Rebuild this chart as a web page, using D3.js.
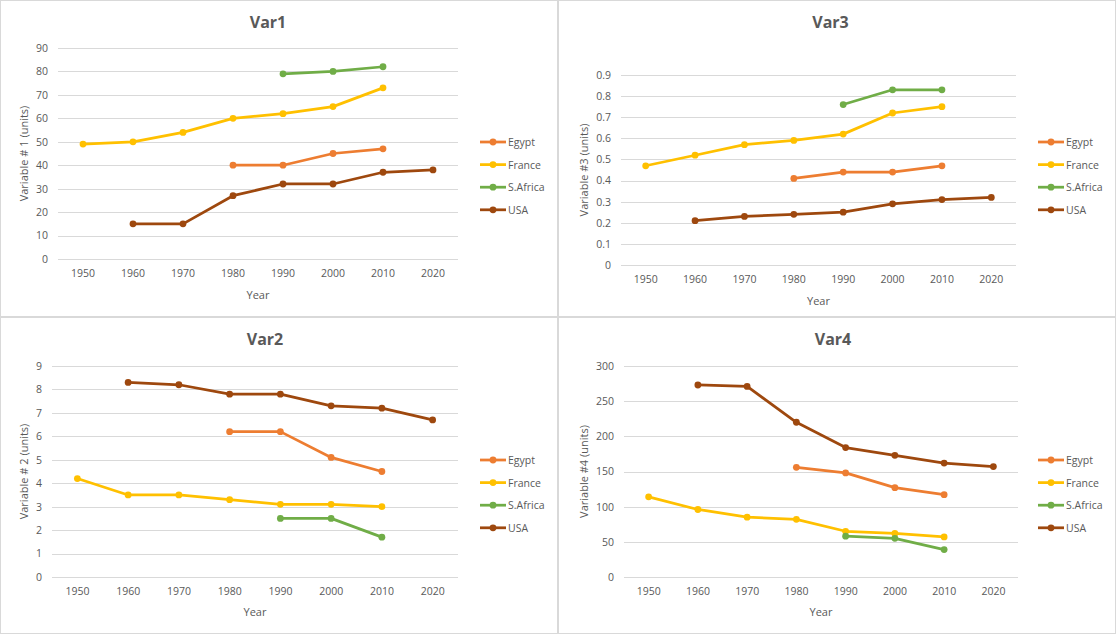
<!DOCTYPE html>
<html><head><meta charset="utf-8">
<script src="https://cdn.jsdelivr.net/npm/d3@7"></script>
<style>
html,body{margin:0;padding:0;background:#fff;}
svg{display:block;font-family:"Open Sans",sans-serif;}
</style></head>
<body>
<svg id="chart" width="1116" height="634"></svg>
<script>
// ---- Data ----
const years = ["1950","1960","1970","1980","1990","2000","2010","2020"];
const countries = ["Egypt","France","S.Africa","USA"];
const colors = ["#ED7D31","#FFC000","#70AD47","#9E480E"];

const var1Egypt   = [null,null,null,40,40,45,47,null];
const var1France  = [49,50,54,60,62,65,73,null];
const var1SAfrica = [null,null,null,null,79,80,82,null];
const var1USA     = [null,15,15,27,32,32,37,38];

const var3Egypt   = [null,null,null,0.41,0.44,0.44,0.47,null];
const var3France  = [0.47,0.52,0.57,0.59,0.62,0.72,0.75,null];
const var3SAfrica = [null,null,null,null,0.76,0.83,0.83,null];
const var3USA     = [null,0.21,0.23,0.24,0.25,0.29,0.31,0.32];

const var2Egypt   = [null,null,null,6.2,6.2,5.1,4.5,null];
const var2France  = [4.2,3.5,3.5,3.3,3.1,3.1,3.0,null];
const var2SAfrica = [null,null,null,null,2.5,2.5,1.7,null];
const var2USA     = [null,8.3,8.2,7.8,7.8,7.3,7.2,6.7];

const var4Egypt   = [null,null,null,156,148,127,117,null];
const var4France  = [114,96,85,82,65,62,57,null];
const var4SAfrica = [null,null,null,null,58,55,39,null];
const var4USA     = [null,273,271,220,184,173,162,157];

const var1Ticks = [0,10,20,30,40,50,60,70,80,90];
const var3Ticks = [0,0.1,0.2,0.3,0.4,0.5,0.6,0.7,0.8,0.9];
const var2Ticks = [0,1,2,3,4,5,6,7,8,9];
const var4Ticks = [0,50,100,150,200,250,300];

const panels = [
  {title:"Var1", ylabel:"Variable # 1 (units)", series:[var1Egypt,var1France,var1SAfrica,var1USA], ticks:var1Ticks,
   ox:0, oy:0, box:{l:58,r:458,t:48,b:259}, xTitleY:295, legendY:142},
  {title:"Var3", ylabel:"Variable #3 (units)", series:[var3Egypt,var3France,var3SAfrica,var3USA], ticks:var3Ticks,
   ox:558, oy:0, box:{l:63,r:458,t:75,b:265}, xTitleY:301, legendY:142},
  {title:"Var2", ylabel:"Variable # 2 (units)", series:[var2Egypt,var2France,var2SAfrica,var2USA], ticks:var2Ticks,
   ox:0, oy:317, box:{l:52,r:458,t:49,b:260}, xTitleY:295, legendY:143},
  {title:"Var4", ylabel:"Variable #4 (units)", series:[var4Egypt,var4France,var4SAfrica,var4USA], ticks:var4Ticks,
   ox:558, oy:317, box:{l:66,r:460,t:49,b:260}, xTitleY:295, legendY:143}
];

const svg = d3.select("#chart");
const textCol = "#595959";

panels.forEach(p => {
  const g = svg.append("g").attr("transform", `translate(${p.ox},${p.oy})`);
  g.append("rect").attr("x",0.5).attr("y",0.5).attr("width",557).attr("height",316)
    .attr("fill","#fff").attr("stroke","#d9d9d9");

  const b = p.box;
  const x = d3.scaleBand().domain(years).range([b.l,b.r]);
  const yMax = p.ticks[p.ticks.length-1];
  const y = d3.scaleLinear().domain([0,yMax]).range([b.b,b.t]);

  // gridlines
  g.append("g").selectAll("line").data(p.ticks).join("line")
    .attr("x1",b.l).attr("x2",b.r)
    .attr("y1",d=>Math.round(y(d))+0.5).attr("y2",d=>Math.round(y(d))+0.5)
    .attr("stroke","#d9d9d9").attr("stroke-width",1);

  // y axis labels
  const yAxis = d3.axisLeft(y).tickValues(p.ticks).tickSize(0).tickPadding(0)
     .tickFormat(d=>String(+d.toFixed(2)));
  const ya = g.append("g").attr("transform",`translate(${b.l-10},0)`).call(yAxis);
  ya.select(".domain").remove();
  ya.selectAll("text").attr("fill",textCol).style("font-size","10.5px").style("font-family","Open Sans");

  // x axis labels
  const xAxis = d3.axisBottom(x).tickSize(0).tickPadding(0);
  const xa = g.append("g").attr("transform",`translate(0,${b.b+11})`).call(xAxis);
  xa.select(".domain").remove();
  xa.selectAll("text").attr("fill",textCol).style("font-size","10.5px").style("font-family","Open Sans");

  // title
  g.append("text").attr("x",(b.l+b.r)/2+ (p.ox? 12:10)).attr("y",28).attr("text-anchor","middle")
    .attr("fill",textCol).style("font-size","16px").style("font-weight","bold").text(p.title);

  // axis titles
  g.append("text").attr("x",(b.l+b.r)/2).attr("y",p.xTitleY+4).attr("text-anchor","middle")
    .attr("fill",textCol).style("font-size","11px").text("Year");
  g.append("text").attr("transform",`translate(${p.ox?30:28},${(b.t+b.b)/2}) rotate(-90)`)
    .attr("text-anchor","middle").attr("fill",textCol).style("font-size","11px").text(p.ylabel);

  // lines
  const line = d3.line().defined(d=>d.v!=null).x(d=>x(d.year)+x.bandwidth()/2).y(d=>y(d.v));
  p.series.forEach((s,i) => {
    const pts = s.map((v,j)=>({year:years[j], v}));
    g.append("path").datum(pts).attr("d",line).attr("fill","none")
      .attr("stroke",colors[i]).attr("stroke-width",2.75).attr("stroke-linejoin","round");
    g.append("g").selectAll("circle").data(pts.filter(d=>d.v!=null)).join("circle")
      .attr("cx",d=>x(d.year)+x.bandwidth()/2).attr("cy",d=>y(d.v)).attr("r",3.4)
      .attr("fill",colors[i]);
  });

  // legend
  const lg = g.append("g").attr("transform",`translate(480,${p.legendY})`);
  countries.forEach((c,i) => {
    const row = lg.append("g").attr("transform",`translate(0,${i*22.6})`);
    row.append("line").attr("x1",0).attr("x2",26).attr("y1",0).attr("y2",0)
      .attr("stroke",colors[i]).attr("stroke-width",2.75);
    row.append("circle").attr("cx",13).attr("cy",0).attr("r",3.4).attr("fill",colors[i]);
    row.append("text").attr("x",28).attr("y",4).attr("fill",textCol)
      .style("font-size","10.5px").text(c);
  });
});
</script>
</body></html>
